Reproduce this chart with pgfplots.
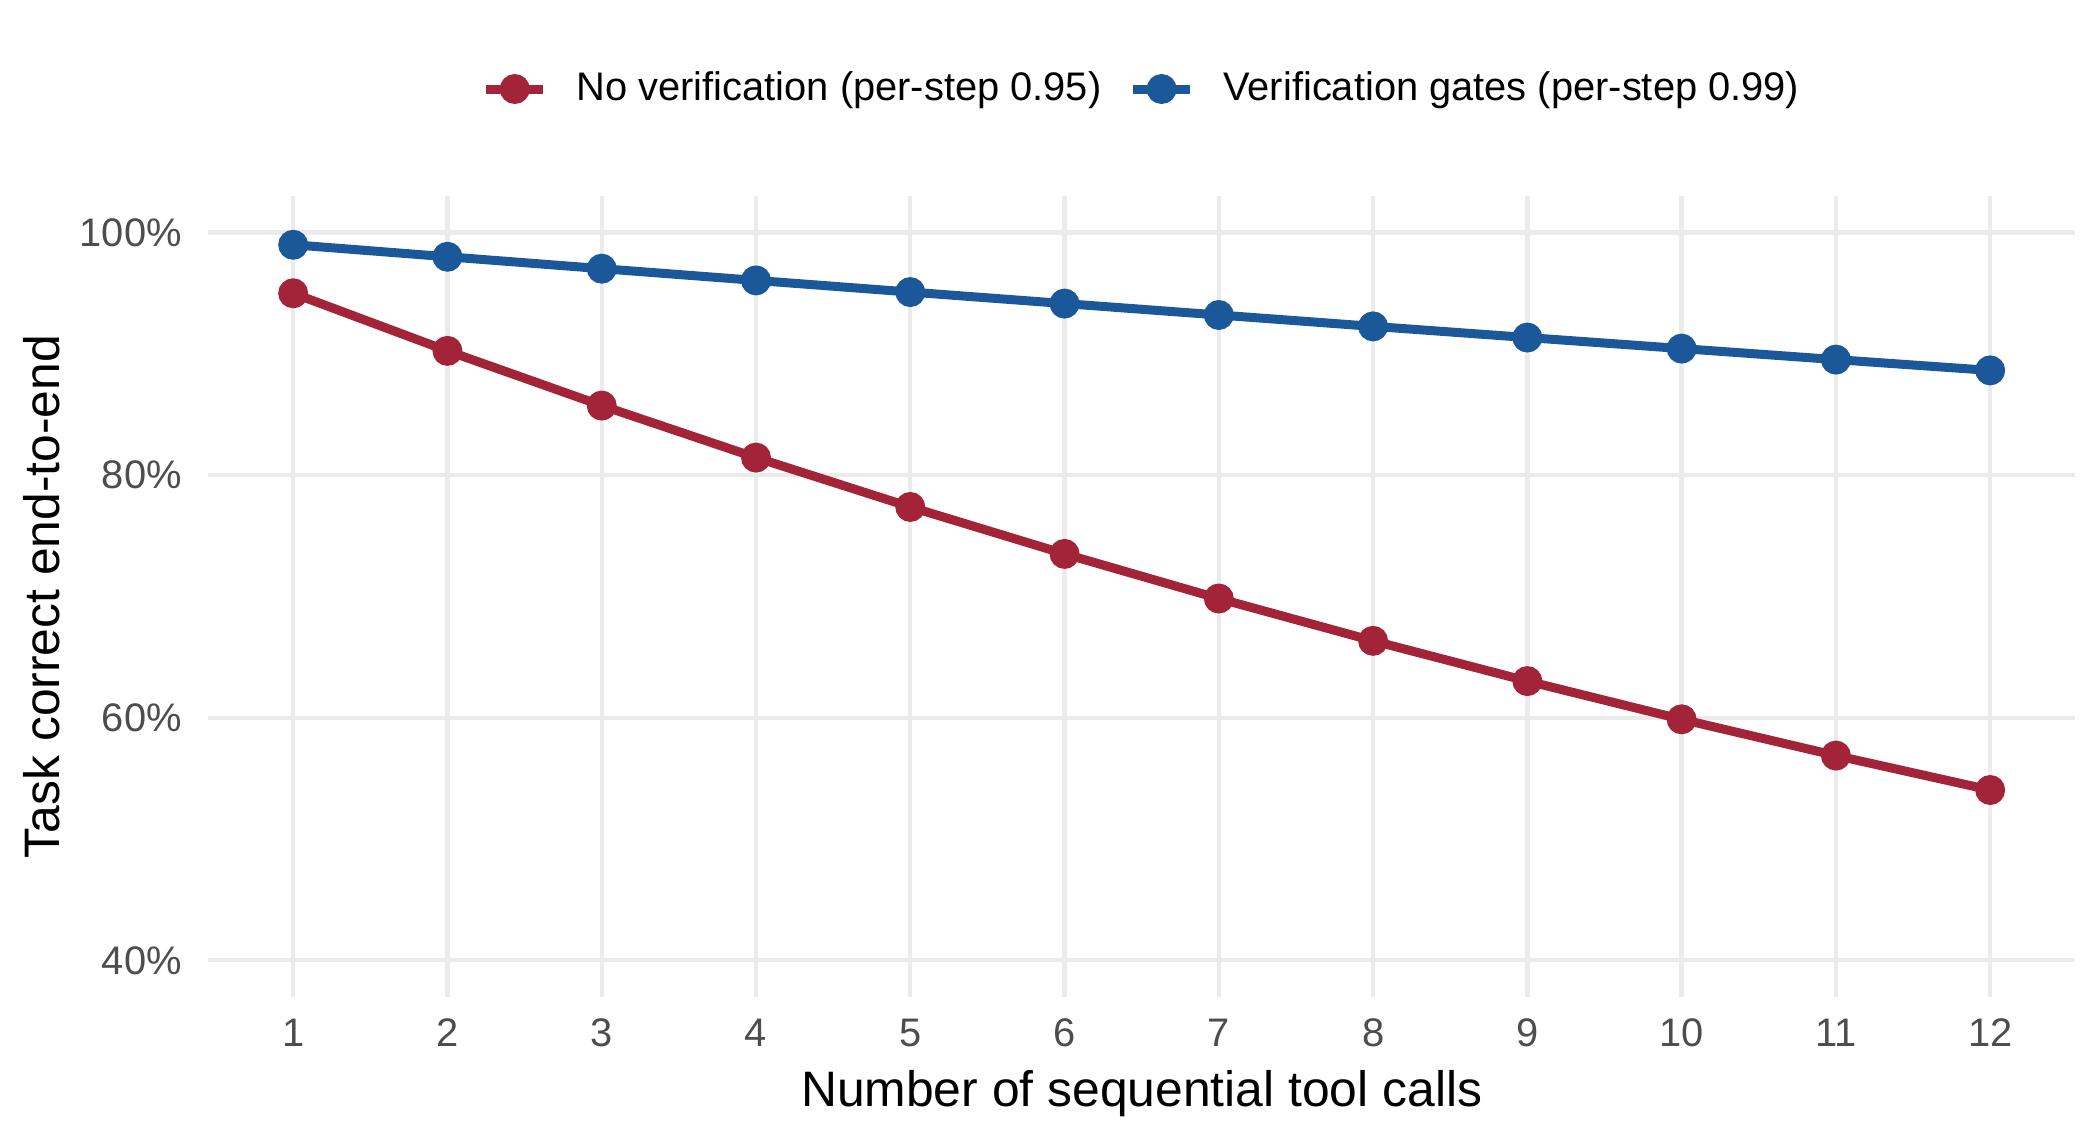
\documentclass[border=0pt]{standalone}
\usepackage{fontspec}
\setmainfont{Liberation Sans}
\usepackage{pgfplots}
\pgfplotsset{compat=1.18}
\definecolor{cRed}{HTML}{A32438}
\definecolor{cBlue}{HTML}{1A589A}
\definecolor{cGrid}{HTML}{EBEBEB}
\definecolor{cTick}{HTML}{4D4D4D}
\begin{document}
\begin{tikzpicture}
\useasboundingbox (0,0) rectangle (504bp,273.6bp);
\begin{axis}[
  at={(50.0bp,34.4bp)}, anchor=south west,
  scale only axis, width=448bp, height=192.1bp,
  xmin=0.45, xmax=12.55, ymin=0.37, ymax=1.03,
  axis line style={draw=none},
  major tick length=0pt,
  grid=major,
  major grid style={cGrid, line width=1.05bp},
  xtick={1,2,3,4,5,6,7,8,9,10,11,12},
  xticklabels={1,2,3,4,5,6,7,8,9,10,11,12},
  ytick={0.4,0.6,0.8,1.0},
  yticklabels={40\%,60\%,80\%,100\%},
  /pgf/number format/assume math mode=true,
  tick label style={font=\fontsize{9.6}{11}\selectfont, text=cTick, inner sep=0pt},
  xticklabel style={anchor=north, yshift=-5.2bp},
  yticklabel style={anchor=east, xshift=-6.2bp},
  xlabel={Number of sequential tool calls},
  ylabel={Task correct end-to-end},
  label style={font=\fontsize{12}{14}\selectfont, inner sep=0pt},
  xlabel style={at={(axis description cs:0.5,0)}, anchor=north, yshift=-17.4bp},
  ylabel style={at={(axis description cs:-0.0795,0.5)}, anchor=base},
  legend columns=2,
  legend style={at={(axis description cs:0.4994,1.134)}, anchor=center,
    draw=none, fill=none, inner sep=0pt, font=\fontsize{9.6}{11}\selectfont,
    nodes={inner sep=0pt},
    /tikz/every odd column/.append style={column sep=6.9bp},
    /tikz/every even column/.append style={column sep=6.5bp}},
  legend image code/.code={\draw[mark repeat=2,mark phase=2,#1] plot coordinates {(0bp,0bp)(6.85bp,0bp)(13.7bp,0bp)};},
  clip=false,
]
\addplot[cRed, line width=2.16bp, mark=*, mark size=2.5bp, mark options={draw=none, fill=cRed}]
  coordinates {(1,0.9500)(2,0.9025)(3,0.8574)(4,0.8145)(5,0.7738)(6,0.7351)(7,0.6983)(8,0.6634)(9,0.6302)(10,0.5987)(11,0.5688)(12,0.5404)};
\addlegendentry{No verification (per-step 0.95)}
\addplot[cBlue, line width=2.16bp, mark=*, mark size=2.5bp, mark options={draw=none, fill=cBlue}]
  coordinates {(1,0.9900)(2,0.9801)(3,0.9703)(4,0.9606)(5,0.9510)(6,0.9415)(7,0.9321)(8,0.9227)(9,0.9135)(10,0.9044)(11,0.8953)(12,0.8864)};
\addlegendentry{Verification gates (per-step 0.99)}
\end{axis}
\end{tikzpicture}
\end{document}
